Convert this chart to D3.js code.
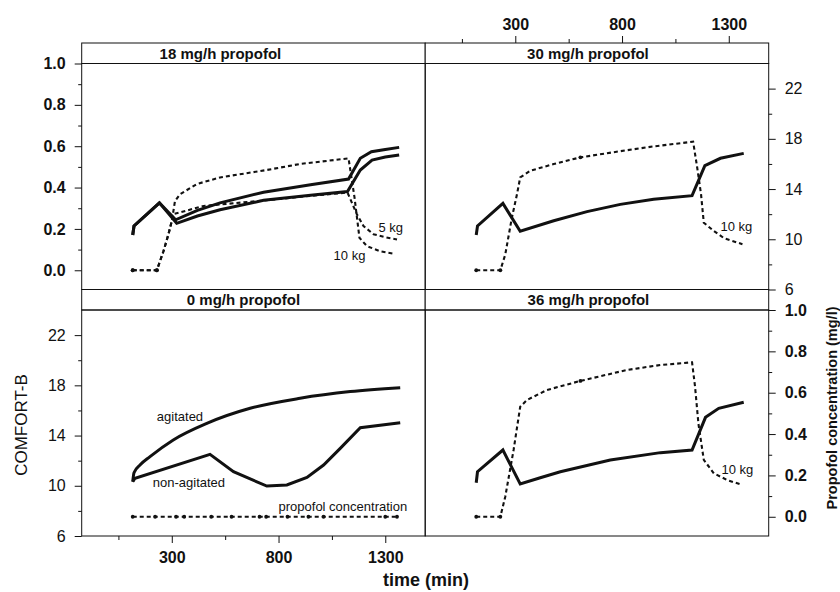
<!DOCTYPE html>
<html>
<head>
<meta charset="utf-8">
<script src="https://cdn.jsdelivr.net/npm/d3@7"></script>
<style>
  body { margin: 0; background: #fff; }
  svg text { font-family: "Liberation Sans", Arial, Helvetica, sans-serif; fill: #111; }
</style>
</head>
<body>
<svg id="chart" width="840" height="592"></svg>
<script>
// Titres des panneaux (haut-gauche, haut-droite, bas-gauche, bas-droite)
const panelTitles = ["18 mg/h propofol", "30 mg/h propofol", "0 mg/h propofol", "36 mg/h propofol"];

// COMFORT-B : [temps (min), score]
const comfort18a = [[117,10.34],[123,11.06],[242,12.9],[318,11.55],[420,12.3],[526,12.9],[730,13.75],[950,14.35],[1128,14.8],[1183,16.45],[1235,16.97],[1300,17.15],[1365,17.32]];
const comfort18b = [[117,10.34],[123,11.06],[242,12.9],[323,11.27],[420,11.85],[526,12.35],[730,13.1],[950,13.5],[1123,13.8],[1183,15.51],[1238,16.31],[1300,16.55],[1365,16.71]];
const comfort30 = [[117,10.34],[123,11.06],[242,12.86],[323,10.64],[480,11.48],[636,12.2],[792,12.78],[948,13.18],[1128,13.47],[1188,15.86],[1261,16.45],[1370,16.84]];
const comfortAgit = [[117,10.32],[123,11.04],[151,11.65],[198,12.32],[307,13.65],[464,14.97],[667,16.17],[901,16.97],[1136,17.5],[1370,17.81]];
const comfortNonAgit = [[117,10.32],[128,10.6],[479,12.5],[589,11.12],[745,9.98],[839,10.06],[933,10.67],[1011,11.65],[1089,12.98],[1183,14.62],[1370,15.02]];
const comfort36 = [[117,10.24],[123,11.12],[242,12.85],[323,10.14],[417,10.64],[511,11.12],[745,12.05],[980,12.64],[1128,12.85],[1191,15.45],[1253,16.17],[1370,16.65]];

// Concentration de propofol : [temps (min), mg/l]
const propofol18a = [[117,0],[230,0],[261,0.092],[284,0.173],[300,0.238],[315,0.335],[339,0.368],[417,0.417],[526,0.449],[745,0.485],[900,0.514],[1128,0.541],[1156,0.351],[1179,0.157],[1214,0.117],[1276,0.092],[1347,0.079]];
const propofol18b = [[117,0],[230,0],[261,0.092],[284,0.173],[300,0.238],[307,0.271],[448,0.311],[745,0.339],[950,0.36],[1123,0.376],[1167,0.271],[1198,0.214],[1245,0.174],[1300,0.16],[1355,0.149]];
const propofol30 = [[117,0],[230,0],[253,0.076],[284,0.254],[308,0.368],[323,0.449],[370,0.481],[480,0.514],[605,0.546],[792,0.576],[948,0.599],[1133,0.622],[1152,0.497],[1170,0.368],[1183,0.23],[1230,0.19],[1278,0.155],[1364,0.126]];
const propofol0 = [[117,0],[222,0],[320,0],[358,0],[485,0],[580,0],[711,0],[742,0],[842,0],[940,0],[1011,0],[1300,0],[1355,0]];
const propofol36 = [[117,0],[230,0],[253,0.097],[292,0.323],[323,0.532],[355,0.565],[448,0.613],[605,0.657],[823,0.71],[980,0.734],[1128,0.747],[1142,0.629],[1158,0.449],[1183,0.275],[1230,0.21],[1292,0.178],[1362,0.154]];

// temps des points marqués sur les courbes de concentration
const dots18 = [117, 230];
const dots30 = [117, 230, 605];
const dots0 = propofol0.map(d => d[0]);
const dots36 = [117, 230, 605];

// Graduations
const propTicks = d3.range(0, 11).map(i => i / 10);
const propLabels = [0, 0.2, 0.4, 0.6, 0.8, 1.0];
const comfortTicks = d3.range(6, 23, 2);
const comfortLabels = [6, 10, 14, 18, 22];
const timeTicks = [50, 300, 550, 800, 1050, 1300];
const timeLabels = [300, 800, 1300];

//---------------------------------------------------------------------------------------

// Mise en page
const pw = 343.5;   // largeur d'un panneau
const ph = 226;     // hauteur d'un panneau
const stripH = 20.5;
const colX = [81.7, 425.2];
const rowY = [63.5, 310];

const panels = [
  { title: panelTitles[0], col: 0, row: 0, dx: -33, comfort: [comfort18a, comfort18b], propofol: [propofol18a, propofol18b], dots: dots18,
    notes: [{ text: "5 kg", t: 1268, c: 10.58 }, { text: "10 kg", t: 1058, c: 8.35 }] },
  { title: panelTitles[1], col: 1, row: 0, dx: -9, comfort: [comfort30], propofol: [propofol30], dots: dots30,
    notes: [{ text: "10 kg", t: 1261, c: 10.66 }] },
  { title: panelTitles[2], col: 0, row: 1, dx: -10, comfort: [comfortAgit, comfortNonAgit], propofol: [propofol0], dots: dots0,
    notes: [{ text: "agitated", t: 230, c: 15.16 }, { text: "non-agitated", t: 211, c: 9.9 }, { text: "propofol concentration", t: 800, c: 8.03 }] },
  { title: panelTitles[3], col: 1, row: 1, dx: -8.5, comfort: [comfort36], propofol: [propofol36], dots: dots36,
    notes: [{ text: "10 kg", t: 1266, c: 10.94 }] }
];

const svg = d3.select("#chart");

// Échelles
const x = d3.scaleLinear().domain([-122, 1487]).range([0, pw]);
const yC = d3.scaleLinear().domain([6, 24]).range([ph, 0]);
const yP = d3.scaleLinear().domain([-0.093, 1.0]).range([ph, 0]);

const lineC = d3.line().x(d => x(d[0])).y(d => yC(d[1]));
const smoothC = d3.line().x(d => x(d[0])).y(d => yC(d[1])).curve(d3.curveMonotoneX);
const lineP = d3.line().x(d => x(d[0])).y(d => yP(d[1]));

//---------------------------------------------------------------------------------------

// Panneaux
panels.forEach(p => {
  const g = svg.append("g").attr("transform", `translate(${colX[p.col]}, ${rowY[p.row]})`);

  // bandeau de titre
  g.append("rect")
    .attr("x", 0).attr("y", -stripH).attr("width", pw).attr("height", stripH)
    .attr("fill", "#fff").attr("stroke", "#111").attr("stroke-width", 1);
  g.append("text")
    .attr("x", pw / 2 + p.dx).attr("y", -5)
    .attr("text-anchor", "middle")
    .attr("font-size", 15).attr("font-weight", "bold")
    .text(p.title);

  // concentrations (pointillés)
  p.propofol.forEach(s => {
    g.append("path")
      .attr("d", lineP(s))
      .attr("fill", "none").attr("stroke", "#111")
      .attr("stroke-width", 2.1).attr("stroke-dasharray", "4,3");
    g.selectAll(null)
      .data(s.filter(d => p.dots.includes(d[0])))
      .join("circle")
      .attr("cx", d => x(d[0])).attr("cy", d => yP(d[1]))
      .attr("r", 1.9).attr("fill", "#111");
  });

  // scores COMFORT-B (traits pleins) ; la courbe "agitated" est lissée
  p.comfort.forEach(s => {
    g.append("path")
      .attr("d", s === comfortAgit ? smoothC(s) : lineC(s))
      .attr("fill", "none").attr("stroke", "#111")
      .attr("stroke-width", 3).attr("stroke-linejoin", "miter");
  });

  // annotations
  g.selectAll(null)
    .data(p.notes)
    .join("text")
    .attr("x", d => x(d.t)).attr("y", d => yC(d.c))
    .attr("font-size", 13)
    .attr("fill", "#222")
    .text(d => d.text);

  // cadre
  g.append("rect")
    .attr("width", pw).attr("height", ph)
    .attr("fill", "none").attr("stroke", "#111").attr("stroke-width", 1);
});

//---------------------------------------------------------------------------------------

// Axes
const isIn = (arr, v) => arr.some(a => Math.abs(a - v) < 1e-6);

function styleAxis(g, labels, bold, attr, majorLen, minorLen) {
  g.attr("font-family", null).attr("font-size", null);
  g.select(".domain").remove();
  g.selectAll(".tick line").attr("stroke", "#111");
  g.selectAll(".tick").each(function (d) {
    const tick = d3.select(this);
    if (isIn(labels, d)) {
      tick.select("line").attr(attr, majorLen);
    } else {
      tick.select("line").attr(attr, minorLen);
      tick.select("text").remove();
    }
  });
  g.selectAll("text")
    .attr("font-size", 16)
    .attr("font-weight", bold ? "bold" : "normal")
    .attr("fill", "#111");
}

// gauche haut : concentration
svg.append("g")
  .attr("transform", `translate(${colX[0]}, ${rowY[0]})`)
  .call(d3.axisLeft(yP).tickValues(propTicks).tickFormat(d3.format(".1f")).tickSize(7).tickPadding(9))
  .call(g => styleAxis(g, propLabels, true, "x2", -7, -3.5));

// droite haut : COMFORT-B
svg.append("g")
  .attr("transform", `translate(${colX[1] + pw}, ${rowY[0]})`)
  .call(d3.axisRight(yC).tickValues(comfortTicks).tickSize(7).tickPadding(9))
  .call(g => styleAxis(g, comfortLabels, false, "x2", 7, 3.5));

// haut : temps
svg.append("g")
  .attr("transform", `translate(${colX[1]}, ${rowY[0] - stripH})`)
  .call(d3.axisTop(x).tickValues(timeTicks).tickFormat(d3.format("d")).tickSize(7).tickPadding(6))
  .call(g => styleAxis(g, timeLabels, true, "y2", -7, -4));

// gauche bas : COMFORT-B
svg.append("g")
  .attr("transform", `translate(${colX[0]}, ${rowY[1]})`)
  .call(d3.axisLeft(yC).tickValues(comfortTicks).tickSize(7).tickPadding(9))
  .call(g => styleAxis(g, comfortLabels, false, "x2", -7, -3.5));

// bas : temps
svg.append("g")
  .attr("transform", `translate(${colX[0]}, ${rowY[1] + ph})`)
  .call(d3.axisBottom(x).tickValues(timeTicks).tickFormat(d3.format("d")).tickSize(7).tickPadding(9))
  .call(g => styleAxis(g, timeLabels, true, "y2", 7, 4));

// droite bas : concentration
svg.append("g")
  .attr("transform", `translate(${colX[1] + pw}, ${rowY[1]})`)
  .call(d3.axisRight(yP).tickValues(propTicks).tickFormat(d3.format(".1f")).tickSize(7).tickPadding(9))
  .call(g => styleAxis(g, propLabels, true, "x2", 7, 3.5));

//---------------------------------------------------------------------------------------

// Titres des axes
svg.append("text")
  .attr("x", 426).attr("y", 586)
  .attr("text-anchor", "middle")
  .attr("font-size", 18).attr("font-weight", "bold")
  .text("time (min)");

svg.append("text")
  .attr("transform", "translate(27, 425) rotate(-90)")
  .attr("text-anchor", "middle")
  .attr("font-size", 17)
  .text("COMFORT-B");

svg.append("text")
  .attr("transform", "translate(837, 408) rotate(-90)")
  .attr("text-anchor", "middle")
  .attr("font-size", 14.5).attr("font-weight", "bold")
  .text("Propofol concentration (mg/l)");
</script>
</body>
</html>
